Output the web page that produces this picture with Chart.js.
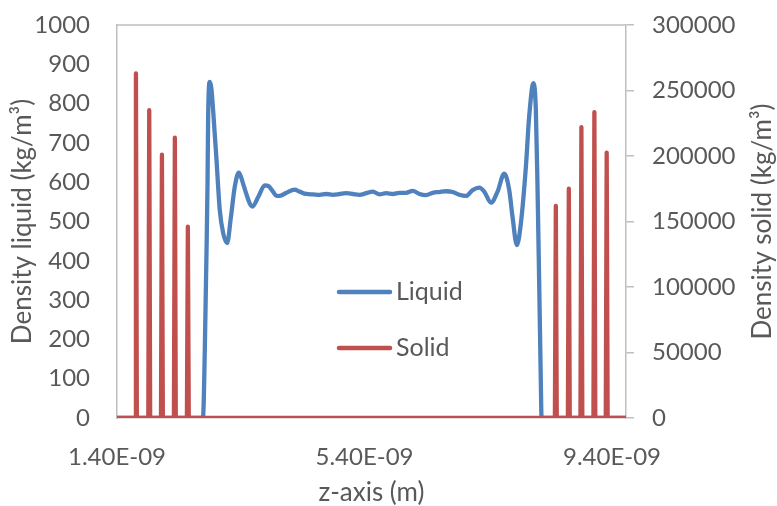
<!DOCTYPE html>
<html>
<head>
<meta charset="utf-8">
<script src="https://cdn.jsdelivr.net/npm/chart.js@4/dist/chart.umd.min.js"></script>
<style>
  body { margin: 0; background: #fff; }
  #wrap { width: 777px; height: 506px; }
</style>
</head>
<body>
<div id="wrap"><canvas id="myChart" width="777" height="506"></canvas></div>
<script>
// z positions in nm, densities in kg/m3
const liquidZ = [1.400, 2.770, 2.792, 2.819, 2.847, 2.863, 2.873, 2.900, 2.924, 2.953, 3.008, 3.061, 3.115, 3.180,
  3.240, 3.303, 3.368, 3.400, 3.450, 3.545, 3.589, 3.690, 3.787, 3.850, 3.921, 3.980, 4.029, 4.137, 4.271, 4.352,
  4.460, 4.567, 4.674, 4.782, 4.890, 4.997, 5.105, 5.212, 5.320, 5.428, 5.535, 5.642, 5.750, 5.858, 5.965, 6.072,
  6.180, 6.288, 6.395, 6.502, 6.610, 6.717, 6.825, 6.932, 7.040, 7.147, 7.255, 7.335, 7.444, 7.550, 7.658, 7.739,
  7.792, 7.863, 7.927, 8.008, 8.061, 8.131, 8.169, 8.195, 8.223, 8.250, 8.260, 8.280, 9.626];
const liquidDensity = [0, 0, 5, 173, 427, 598, 767, 855, 840, 784, 657, 529, 471, 445,
  510, 588, 624, 615, 590, 546, 538, 565, 592, 590, 576, 565, 565, 573, 581, 576,
  570, 569, 568, 570, 568, 570, 572, 570, 568, 572, 576, 569, 572, 570, 573, 573,
  578, 570, 567, 573, 575, 577, 575, 568, 565, 580, 586, 576, 548, 576, 622, 580,
  512, 440, 495, 639, 767, 852, 784, 597, 343, 88, 5, 0, 0];

const solidZ = [1.400,
  1.691, 1.706, 1.721, 1.906, 1.921, 1.936, 2.111, 2.126, 2.141, 2.320, 2.335, 2.350, 2.530, 2.545, 2.560,
  8.477, 8.492, 8.507, 8.687, 8.702, 8.717, 8.890, 8.905, 8.920, 9.100, 9.115, 9.130, 9.299, 9.314, 9.329,
  9.626];
const solidDensity = [0,
  0, 263000, 0, 0, 235000, 0, 0, 201000, 0, 0, 214000, 0, 0, 146000, 0,
  0, 162000, 0, 0, 175000, 0, 0, 222000, 0, 0, 233500, 0, 0, 202500, 0,
  0];

const xTicks = [1.4e-9, 5.4e-9, 9.4e-9];
const xMin = 1.4e-9;
const xMax = 9.626e-9;

const textColor = '#595959';
const axisColor = '#BFBFBF';
const fontFamily = 'Lato';
const tickFont = { family: fontFamily, size: 24 };
const titleFont = { family: fontFamily, size: 26, lineHeight: 1 };

function fmtSci(v) {
  const [m, e] = v.toExponential(2).split('e');
  const n = Math.abs(parseInt(e, 10));
  return m.toUpperCase() + 'E' + (e[0] === '-' ? '-' : '+') + String(n).padStart(2, '0');
}

// keep the label overhang from pushing the plot area down
function fixVertical(width) {
  return axis => {
    axis.width = width;
    axis.paddingTop = 14;
    axis.paddingBottom = 14;
  };
}

const extras = {
  id: 'extras',
  afterDraw(chart) {
    const {ctx, chartArea} = chart;
    ctx.save();
    // top border of plot area
    ctx.strokeStyle = axisColor;
    ctx.lineWidth = 1.5;
    ctx.beginPath();
    ctx.moveTo(chartArea.left, chartArea.top);
    ctx.lineTo(chartArea.right, chartArea.top);
    ctx.stroke();

    // legend
    const rows = [292, 348];
    chart.data.datasets.forEach((ds, i) => {
      const y = rows[i];
      ctx.strokeStyle = ds.borderColor;
      ctx.lineWidth = 4.5;
      ctx.lineCap = 'round';
      ctx.beginPath();
      ctx.moveTo(339, y);
      ctx.lineTo(390, y);
      ctx.stroke();
      ctx.fillStyle = textColor;
      ctx.font = '25px ' + fontFamily;
      ctx.textAlign = 'left';
      ctx.textBaseline = 'middle';
      ctx.fillText(ds.label, 396, y);
    });

    // right axis title, reads bottom to top
    ctx.translate(763, (chartArea.top + chartArea.bottom) / 2);
    ctx.rotate(-Math.PI / 2);
    ctx.textAlign = 'center';
    ctx.textBaseline = 'middle';
    ctx.fillStyle = textColor;
    ctx.font = '26px ' + fontFamily;
    ctx.fillText('Density solid (kg/m³)', 0, 0);
    ctx.restore();
  }
};

function buildChart() {
  const data = {
    datasets: [{
      label: 'Liquid',
      data: liquidZ.map((z, i) => ({x: z * 1e-9, y: liquidDensity[i]})),
      borderColor: '#4F81BD',
      backgroundColor: '#4F81BD',
      borderWidth: 4.3,
      pointRadius: 0,
      cubicInterpolationMode: 'monotone',
      borderJoinStyle: 'round',
      borderCapStyle: 'round',
      yAxisID: 'y',
      order: 2
    }, {
      label: 'Solid',
      data: solidZ.map((z, i) => ({x: z * 1e-9, y: solidDensity[i]})),
      borderColor: '#C0504D',
      backgroundColor: '#C0504D',
      borderWidth: 4.3,
      pointRadius: 0,
      tension: 0,
      borderJoinStyle: 'round',
      borderCapStyle: 'butt',
      yAxisID: 'y1',
      order: 1
    }]
  };

  const config = {
    type: 'line',
    data: data,
    options: {
      responsive: false,
      animation: false,
      devicePixelRatio: 1,
      layout: { padding: { top: 25, left: 0, right: 0, bottom: 0 } },
      plugins: {
        legend: { display: false },
        tooltip: { enabled: false }
      },
      scales: {
        x: {
          type: 'linear',
          min: xMin,
          max: xMax,
          afterBuildTicks: axis => { axis.ticks = xTicks.map(v => ({value: v})); },
          afterFit: axis => { axis.height = 88; },
          grid: { display: false, drawTicks: false },
          border: { display: true, color: axisColor, width: 1.5 },
          ticks: {
            autoSkip: false,
            maxRotation: 0,
            padding: 25,
            color: textColor,
            font: tickFont,
            callback: v => fmtSci(v)
          },
          title: {
            display: true,
            text: 'z-axis (m)',
            color: textColor,
            font: titleFont,
            padding: { top: 0, bottom: 0 }
          }
        },
        y: {
          position: 'left',
          min: 0,
          max: 1000,
          afterFit: fixVertical(117),
          grid: { display: false, drawTicks: false },
          border: { display: true, color: axisColor, width: 1.5 },
          ticks: {
            stepSize: 100,
            padding: 27,
            color: textColor,
            font: tickFont,
            callback: v => String(v)
          },
          title: {
            display: true,
            text: 'Density liquid (kg/m³)',
            color: textColor,
            font: titleFont,
            padding: { top: 10, bottom: 0 }
          }
        },
        y1: {
          position: 'right',
          min: 0,
          max: 300000,
          afterFit: fixVertical(151),
          grid: {
            display: true,
            drawOnChartArea: false,
            drawTicks: true,
            tickLength: 8,
            color: axisColor,
            lineWidth: 1.5
          },
          border: { display: true, color: axisColor, width: 1.5 },
          ticks: {
            stepSize: 50000,
            padding: 18,
            color: textColor,
            font: tickFont,
            callback: v => String(v)
          }
        }
      }
    },
    plugins: [extras]
  };

  new Chart(document.getElementById('myChart'), config);
}

document.fonts.load('24px ' + fontFamily).then(buildChart, buildChart);
</script>
</body>
</html>
